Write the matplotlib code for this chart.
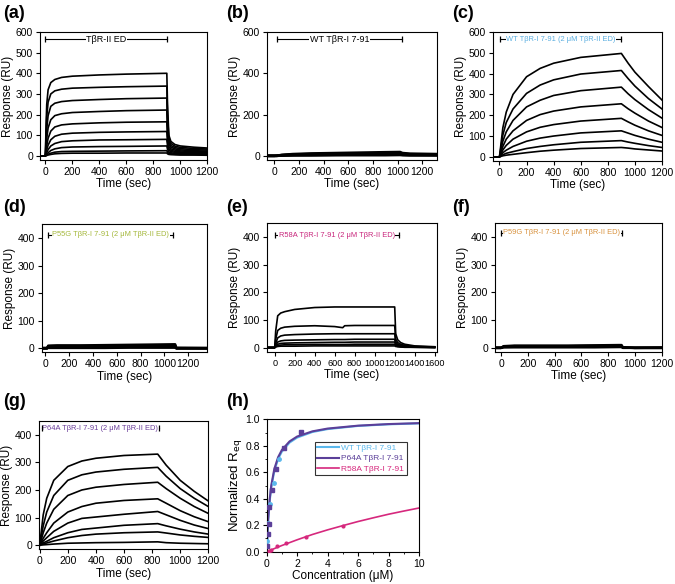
import matplotlib
matplotlib.use('Agg')
import matplotlib.pyplot as plt
from matplotlib.ticker import MultipleLocator, AutoMinorLocator

plt.rcParams['font.family'] = ['Liberation Sans', 'DejaVu Sans']

# ---- (a) TbR-II ED sensorgrams
ta = [-40, 0, 5, 10, 20, 40, 70, 120, 200, 400, 600, 900, 905, 915, 930, 960, 1000, 1100, 1200]
ya = [
    [0, 0, 150, 250, 320, 355, 370, 380, 386, 392, 396, 400, 250, 100, 70, 55, 48, 42, 38],
    [0, 0, 110, 190, 260, 300, 315, 323, 328, 332, 335, 338, 200, 85, 60, 47, 41, 36, 33],
    [0, 0, 70, 130, 195, 240, 255, 263, 268, 273, 277, 280, 160, 70, 50, 40, 35, 30, 28],
    [0, 0, 45, 85, 135, 175, 195, 204, 210, 215, 219, 222, 125, 58, 42, 34, 29, 25, 23],
    [0, 0, 25, 50, 85, 120, 140, 150, 155, 160, 163, 165, 95, 45, 34, 28, 24, 20, 19],
    [0, 0, 15, 30, 52, 78, 95, 105, 110, 114, 116, 118, 70, 35, 27, 22, 19, 16, 15],
    [0, 0, 8, 16, 30, 48, 60, 69, 73, 77, 78, 80, 50, 27, 21, 17, 15, 13, 12],
    [0, 0, 4, 8, 15, 26, 34, 40, 43, 45, 46, 48, 32, 19, 15, 12, 11, 9, 9],
    [0, 0, 2, 4, 8, 13, 18, 21, 22, 23, 24, 25, 18, 12, 10, 8, 7, 6, 6],
    [0, 0, 1, 2, 4, 7, 10, 12, 13, 13, 14, 14, 10, 7, 6, 5, 4, 4, 3],
]

# ---- (b) WT TbR-I 7-91 alone
tb = [-60, 0, 20, 60, 150, 300, 500, 700, 900, 1020, 1040, 1100, 1320]
yb = [
    [0, 0, 1, 5, 9, 12, 14, 16, 18, 19, 14, 11, 9],
    [0, 0, 1, 4, 7, 9, 11, 12, 13, 14, 10, 8, 7],
    [0, 0, 0, 3, 5, 7, 8, 9, 10, 10, 8, 6, 5],
    [0, 0, 0, 2, 3, 4, 5, 6, 6, 7, 5, 4, 3],
    [0, 0, 0, 1, 2, 2, 3, 3, 3, 4, 3, 2, 2],
]

# ---- (c) WT TbR-I 7-91 + 2 uM TbR-II ED
tc = [-50, 0, 25, 50, 100, 200, 300, 400, 600, 900, 950, 1000, 1100, 1200]
yc = [
    [0, 0, 140, 215, 300, 385, 425, 450, 478, 497, 450, 407, 338, 273],
    [0, 0, 105, 165, 230, 305, 345, 370, 398, 415, 376, 340, 280, 230],
    [0, 0, 75, 120, 175, 240, 272, 295, 318, 335, 303, 275, 227, 186],
    [0, 0, 50, 85, 125, 175, 203, 220, 240, 255, 231, 210, 172, 141],
    [0, 0, 33, 55, 85, 120, 142, 155, 172, 185, 168, 152, 125, 103],
    [0, 0, 20, 32, 50, 75, 90, 100, 115, 125, 114, 103, 85, 70],
    [0, 0, 10, 17, 25, 40, 50, 58, 70, 78, 71, 65, 54, 45],
    [0, 0, 5, 8, 12, 20, 27, 32, 40, 45, 42, 38, 33, 28],
]

# ---- (d) P55G
td = [-30, 15, 25, 100, 300, 500, 700, 900, 1080, 1090, 1100, 1360]
yd = [
    [0, 0, 9, 10, 10, 11, 12, 13, 14, 14, 1, 0],
    [0, 0, 7, 8, 8, 8, 9, 10, 10, 10, 0, 0],
    [0, 0, 5, 5, 6, 6, 6, 7, 7, 7, 0, 0],
    [0, 0, 3, 3, 3, 3, 4, 4, 4, 4, 0, 0],
    [0, 0, 1, 1, 1, 1, 2, 2, 2, 2, 0, 0],
]

# ---- (e) R58A
te = [-80, 0, 10, 30, 60, 100, 200, 400, 600, 680, 700, 800, 1000, 1200,
      1210, 1230, 1260, 1300, 1400, 1600]
ye = [
    [0, 0, 60, 115, 125, 130, 138, 145, 147, 147, 147, 147, 147, 147, 50, 28, 18, 12, 6, 3],
    [0, 0, 30, 62, 70, 74, 77, 79, 76, 72, 79, 80, 80, 80, 30, 18, 12, 8, 4, 2],
    [0, 0, 15, 35, 42, 45, 47, 49, 50, 50, 50, 50, 50, 50, 20, 12, 8, 6, 3, 1],
    [0, 0, 8, 20, 24, 26, 27, 28, 29, 29, 29, 30, 30, 30, 14, 9, 6, 4, 2, 1],
    [0, 0, 5, 12, 15, 16, 17, 18, 19, 19, 19, 20, 20, 20, 10, 6, 4, 3, 2, 1],
    [0, 0, 3, 7, 9, 10, 10, 11, 11, 11, 11, 12, 12, 12, 7, 4, 3, 2, 1, 0],
    [0, 0, 2, 4, 5, 5, 5, 6, 6, 6, 6, 6, 6, 6, 4, 3, 2, 1, 1, 0],
]

# ---- (f) P59G
tf = [-45, 0, 20, 100, 300, 500, 700, 880, 900, 910, 1000, 1200]
yf = [
    [0, 0, 6, 8, 8, 8, 9, 10, 10, 2, 0, 1],
    [0, 0, 5, 6, 6, 6, 7, 7, 7, 1, 0, 0],
    [0, 0, 3, 4, 4, 4, 4, 5, 5, 1, 0, 0],
    [0, 0, 2, 2, 2, 2, 2, 3, 3, 0, 0, 0],
]

# ---- (g) P64A
tg = [0, 25, 50, 100, 200, 300, 400, 600, 840, 900, 1000, 1100, 1200]
yg = [
    [0, 110, 170, 235, 285, 305, 315, 325, 330, 290, 235, 195, 160],
    [0, 70, 120, 180, 235, 255, 265, 275, 282, 250, 205, 170, 140],
    [0, 45, 80, 130, 180, 200, 210, 220, 228, 205, 170, 140, 115],
    [0, 25, 45, 80, 120, 140, 152, 162, 168, 152, 125, 103, 85],
    [0, 15, 27, 50, 80, 97, 102, 112, 122, 110, 90, 73, 60],
    [0, 8, 14, 27, 45, 57, 62, 72, 78, 70, 58, 48, 40],
    [0, 4, 8, 15, 27, 35, 40, 45, 48, 44, 37, 32, 28],
    [0, 1, 2, 4, 7, 8, 9, 10, 12, 9, 7, 6, 5],
]

# ---- (h) normalized Req vs concentration
fit_c = [0, 0.05, 0.1, 0.2, 0.3, 0.5, 0.75, 1.0, 1.5, 2, 3, 4, 6, 8, 10]
fit_wt = [0, 0.135, 0.24, 0.385, 0.485, 0.61, 0.70, 0.757, 0.824, 0.862, 0.904, 0.926, 0.95, 0.962, 0.969]
fit_p64a = [0, 0.143, 0.25, 0.40, 0.50, 0.625, 0.714, 0.769, 0.833, 0.87, 0.909, 0.93, 0.952, 0.964, 0.971]
fit_r58a_c = [0, 1, 2, 3, 4, 5, 6, 7, 8, 9, 10]
fit_r58a = [0, 0.047, 0.09, 0.13, 0.165, 0.197, 0.228, 0.256, 0.283, 0.307, 0.33]
wt_c = [0.03, 0.07, 0.2, 0.45, 0.8]
wt_r = [0.08, 0.22, 0.36, 0.52, 0.70]
p64a_c = [0.04, 0.11, 0.15, 0.17, 0.33, 0.59, 1.16, 2.25]
p64a_r = [0.04, 0.13, 0.21, 0.34, 0.465, 0.625, 0.78, 0.907]
r58a_c = [0.16, 0.31, 0.7, 1.3, 2.56, 5.03]
r58a_r = [0.005, 0.015, 0.043, 0.065, 0.11, 0.196]

# bracket (injection) annotations: start, end, level, label, colour
brackets = {
    'a': (0, 900, 565, 'TβR-II ED', 'black'),
    'b': (20, 1035, 565, 'WT TβR-I 7-91', 'black'),
    'c': (5, 900, 565, 'WT TβR-I 7-91 (2 μM TβR-II ED)', '#5aaee0'),
    'd': (22, 1075, 412, 'P55G TβR-I 7-91 (2 μM TβR-II ED)', '#a5b83c'),
    'e': (0, 1240, 407, 'R58A TβR-I 7-91 (2 μM TβR-II ED)', '#c8267c'),
    'f': (0, 905, 416, 'P59G TβR-I 7-91 (2 μM TβR-II ED)', '#d8923e'),
    'g': (13, 850, 424, 'P64A TβR-I 7-91 (2 μM TβR-II ED)', '#6a3d9a'),
}

W, H = 675, 584
fig = plt.figure(figsize=(W / 100, H / 100), dpi=100)
fig.patch.set_facecolor('white')


def make_ax(l, r, t, b):
    return fig.add_axes([l / W, 1 - b / H, (r - l) / W, (b - t) / H])


def style(ax, xlim, ylim, xstep, ystep, xlabel='Time (sec)', ylabel='Response (RU)'):
    ax.set_xlim(*xlim)
    ax.set_ylim(*ylim)
    ax.xaxis.set_major_locator(MultipleLocator(xstep))
    ax.yaxis.set_major_locator(MultipleLocator(ystep))
    ax.tick_params(direction='out', length=3, width=0.8, labelsize=7.5, pad=2)
    for s in ax.spines.values():
        s.set_linewidth(0.8)
    ax.set_xlabel(xlabel, fontsize=8.5, labelpad=1)
    ax.set_ylabel(ylabel, fontsize=8.5, labelpad=1)


def bracket(ax, key, fs=5.4):
    x0, x1, y, label, col = brackets[key]
    ax.plot([x0, x1], [y, y], color='black', lw=0.8, zorder=3)
    ax.text((x0 + x1) / 2, y, label, color=col, fontsize=fs, ha='center', va='center',
            zorder=4, bbox=dict(fc='white', ec='none', pad=0.3))
    # end caps drawn over the label box
    ax.plot([x0, x1], [y, y], ls='none', color='black', marker='|', ms=5, mew=0.9, zorder=5)


def curves(ax, t, ys, lw=1.2):
    for y in ys:
        ax.plot(t, y, color='black', lw=lw)


axes = {}
axes['a'] = make_ax(40, 207.3, 32, 160)
axes['b'] = make_ax(267, 437, 32, 160)
axes['c'] = make_ax(492.7, 662, 32, 161)
axes['d'] = make_ax(41.7, 207.3, 224.3, 352.3)
axes['e'] = make_ax(266.7, 436.7, 223.3, 351.7)
axes['f'] = make_ax(495, 661.7, 223.3, 352)
axes['g'] = make_ax(39, 208.3, 421, 549.3)
axes['h'] = make_ax(266.7, 419, 419.3, 551.7)

ax = axes['a']
curves(ax, ta, ya)
style(ax, (-40, 1200), (-20, 600), 200, 100)
bracket(ax, 'a', fs=6.5)

ax = axes['b']
curves(ax, tb, yb, lw=1.8)
style(ax, (-60, 1320), (-20, 600), 200, 200)
bracket(ax, 'b', fs=6.5)

ax = axes['c']
curves(ax, tc, yc)
style(ax, (-50, 1200), (-20, 600), 200, 100)
bracket(ax, 'c')

ax = axes['d']
curves(ax, td, yd, lw=1.8)
style(ax, (-30, 1360), (-15, 450), 200, 100)
ax.set_xticks(range(0, 1201, 200))
bracket(ax, 'd')

ax = axes['e']
curves(ax, te, ye)
style(ax, (-80, 1620), (-15, 450), 200, 100)
ax.tick_params(axis='x', labelsize=6.6)
bracket(ax, 'e')

ax = axes['f']
curves(ax, tf, yf, lw=1.8)
style(ax, (-45, 1200), (-15, 450), 200, 100)
bracket(ax, 'f')

ax = axes['g']
curves(ax, tg, yg)
style(ax, (-5, 1200), (-15, 450), 200, 100)
bracket(ax, 'g')

ax = axes['h']
ax.plot(fit_c, fit_wt, color='#5bb8ec', lw=1.5, label='WT TβR-I 7-91')
ax.plot(fit_c, fit_p64a, color='#5b3f99', lw=1.5, label='P64A TβR-I 7-91')
ax.plot(fit_r58a_c, fit_r58a, color='#d6287d', lw=1.2, label='R58A TβR-I 7-91')
ax.plot(wt_c, wt_r, 'o', color='#5bb8ec', ms=2.5, zorder=4)
ax.plot(p64a_c, p64a_r, 's', color='#5b3f99', ms=3, zorder=4)
ax.plot(r58a_c, r58a_r, 'o', color='#d6287d', ms=2, zorder=4)
style(ax, (0, 10), (0, 1.0), 2, 0.2, xlabel='Concentration (μM)', ylabel='Normalized R$_{\\rm eq}$')
ax.yaxis.label.set_size(9.5)
ax.yaxis.set_major_formatter(matplotlib.ticker.FormatStrFormatter('%.1f'))
ax.xaxis.set_minor_locator(AutoMinorLocator(2))
ax.yaxis.set_minor_locator(AutoMinorLocator(2))
ax.tick_params(which='minor', direction='out', length=1.5, width=0.6)
leg = ax.legend(loc='upper right', bbox_to_anchor=(0.92, 0.83), fontsize=6, frameon=True,
                fancybox=False, handlelength=2.6, handletextpad=0.3, borderpad=0.3,
                labelspacing=0.3, borderaxespad=0)
leg.get_frame().set_edgecolor('black')
leg.get_frame().set_linewidth(0.8)
for txt, line in zip(leg.get_texts(), leg.get_lines()):
    txt.set_color(line.get_color())

# panel letters
letters = {'a': (3, 5), 'b': (226, 5), 'c': (452, 5),
           'd': (3, 199), 'e': (226, 199), 'f': (452, 199),
           'g': (3, 393), 'h': (226, 393)}
for k, (px, py) in letters.items():
    fig.text(px / W, 1 - py / H, '(%s)' % k, fontsize=13, fontweight='bold',
             ha='left', va='top')

fig.savefig('out.png', dpi=100, facecolor='white')
